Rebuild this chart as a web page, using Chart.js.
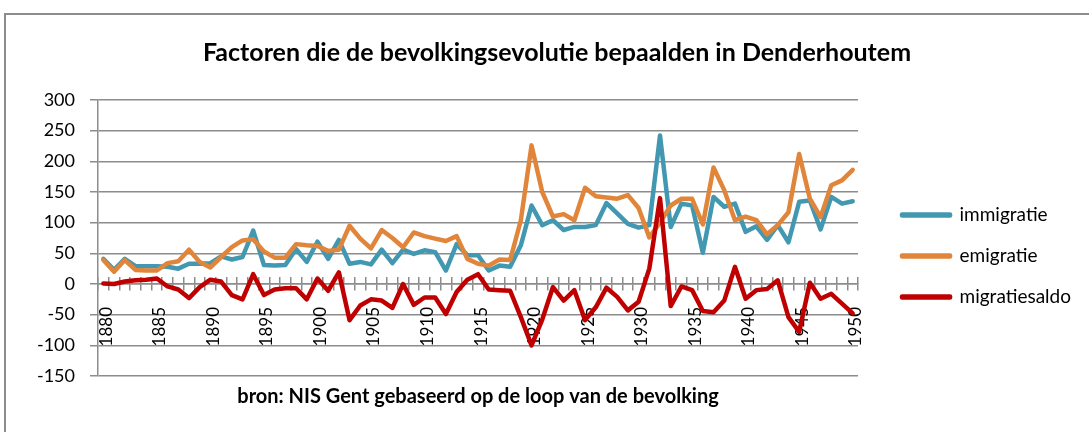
<!DOCTYPE html>
<html>
<head>
<meta charset="utf-8">
<script src="https://cdn.jsdelivr.net/npm/chart.js@4/dist/chart.umd.min.js"></script>
<style>
  html, body { margin: 0; padding: 0; background: #fff; overflow: hidden; }
  #frame {
    position: absolute; left: 4px; top: 13px;
    width: 1102px; height: 430px;
    border-top: 2px solid #8c8c8c; border-left: 2px solid #8c8c8c;
  }
  canvas { display: block; }
</style>
</head>
<body>
<div id="frame"><canvas id="chart" width="1102" height="417"></canvas></div>
<script>
const years = [];
for (let y = 1880; y <= 1950; y++) years.push(String(y));

const immigratie = [
  41, 23, 41, 29, 29, 29, 28, 25, 33, 33,
  34, 45, 40, 44, 87, 31, 30, 31, 57, 36,
  69, 41, 72, 33, 36, 32, 56, 34, 56, 49,
  55, 52, 22, 65, 47, 47, 22, 30, 28, 63,
  128, 96, 104, 88, 93, 93, 96, 132, 115, 98,
  92, 96, 242, 93, 131, 128, 51, 142, 126, 131,
  85, 94, 72, 96, 68, 134, 136, 89, 142, 131,
  135
];

const emigratie = [
  39, 20, 39, 23, 22, 22, 34, 37, 56, 36,
  27, 44, 60, 71, 73, 53, 43, 43, 65, 63,
  62, 54, 56, 95, 74, 58, 88, 75, 60, 84,
  78, 74, 70, 78, 41, 33, 30, 40, 39, 104,
  226, 150, 110, 114, 104, 157, 143, 141, 139, 145,
  124, 76, 100, 128, 139, 139, 97, 190, 153, 104,
  110, 104, 81, 96, 117, 212, 139, 109, 161, 169,
  186
];

const migratiesaldo = [
  1, 0, 4, 6, 7, 9, -4, -9, -23, -5,
  7, 4, -18, -25, 16, -18, -9, -7, -7, -25,
  9, -11, 19, -59, -35, -25, -27, -39, 0, -34,
  -22, -22, -49, -13, 7, 16, -9, -10, -11, -54,
  -100, -58, -5, -27, -10, -59, -38, -6, -21, -43,
  -29, 25, 140, -36, -4, -10, -44, -46, -27, 28,
  -24, -10, -8, 6, -54, -78, 2, -24, -16, -32,
  -48
];

const seriesNames = ['immigratie', 'emigratie', 'migratiesaldo'];
const seriesColors = ['#4398b1', '#e0853a', '#c00000'];
const yTicks = { min: -150, max: 300, step: 50 };

const gridGray = '#8c8c8c';
const fontFamily = 'Lato, "Liberation Sans", sans-serif';
Chart.defaults.font.family = fontFamily;
Chart.defaults.color = '#000';

const canvas = document.getElementById('chart');
const ctx = canvas.getContext('2d');

// legend sizes; the side padding is worked out so the legend starts where it should
const legendFont = 19;
const legendPad = 22;
const legendBox = 48;
ctx.font = legendFont + 'px ' + fontFamily;
const legendText = Math.max(...seriesNames.map(n => ctx.measureText(n).width));
const legendWidth = legendPad + legendBox + legendFont / 2 + legendText + 10;
const legendLeft = 874;
const sidePad = Math.max(0, Math.round(canvas.width - legendLeft - legendWidth));

function makeSet(i, values) {
  return {
    label: seriesNames[i],
    data: values,
    borderColor: seriesColors[i],
    backgroundColor: seriesColors[i],
    borderWidth: 4.5,
    pointRadius: 0,
    tension: 0,
    fill: false,
    borderJoinStyle: 'round',
    borderCapStyle: 'round',
    order: 3 - i   // later series drawn on top, like the original
  };
}

new Chart(ctx, {
  type: 'line',
  data: {
    labels: years,
    datasets: [makeSet(0, immigratie), makeSet(1, emigratie), makeSet(2, migratiesaldo)]
  },
  options: {
    responsive: false,
    animation: false,
    devicePixelRatio: 1,
    layout: { padding: { left: sidePad, right: sidePad } },
    scales: {
      x: {
        type: 'category',
        position: { y: 0 },
        offset: true,
        grid: { display: true, drawOnChartArea: false, drawTicks: true, tickLength: 6, offset: true, color: gridGray, lineWidth: 1.5 },
        border: { display: true, color: gridGray, width: 1.5 },
        ticks: {
          autoSkip: false, maxRotation: 90, minRotation: 90, padding: 17, labelOffset: 3,
          font: { size: 17 },
          callback: function (v, i) { return i % 5 === 0 ? this.getLabelForValue(v) : ''; }
        }
      },
      // upper half of the crossing tick marks
      xTop: {
        type: 'category',
        axis: 'x',
        position: { y: 11 },
        offset: true,
        grid: { display: true, drawOnChartArea: false, drawTicks: true, tickLength: 7, offset: true, color: gridGray, lineWidth: 1.5 },
        border: { display: false },
        ticks: { display: false, autoSkip: false }
      },
      y: {
        min: yTicks.min, max: yTicks.max,
        ticks: { stepSize: yTicks.step, font: { size: 18 }, padding: 15 },
        grid: { color: gridGray, lineWidth: 1.5, tickLength: 8 },
        border: { display: true, color: gridGray, width: 1.5 },
        afterFit: function (s) { s.width = 92 - sidePad; }
      },
      // empty axis, only keeps a gap between plot and legend
      yR: {
        axis: 'y',
        position: 'right',
        display: true,
        grid: { display: false },
        border: { display: false },
        ticks: { display: false },
        afterFit: function (s) { s.width = 22; }
      }
    },
    plugins: {
      title: {
        display: true,
        text: 'Factoren die de bevolkingsevolutie bepaalden in Denderhoutem',
        font: { size: 25, weight: 'bold' },
        padding: { top: 23, bottom: 32 }
      },
      subtitle: {
        display: true,
        position: 'bottom',
        fullSize: false,
        text: 'bron: NIS Gent gebaseerd op de loop van de bevolking',
        font: { size: 20, weight: 'bold' },
        padding: { top: 9, bottom: 23 }
      },
      legend: {
        position: 'right',
        maxWidth: 400,
        title: { display: true, text: '', font: { size: 1, lineHeight: 1 }, padding: 32 },
        labels: {
          boxWidth: legendBox, boxHeight: 1, padding: legendPad,
          font: { size: legendFont },
          sort: (a, b) => a.datasetIndex - b.datasetIndex
        }
      },
      tooltip: { enabled: false }
    }
  }
});
</script>
</body>
</html>
